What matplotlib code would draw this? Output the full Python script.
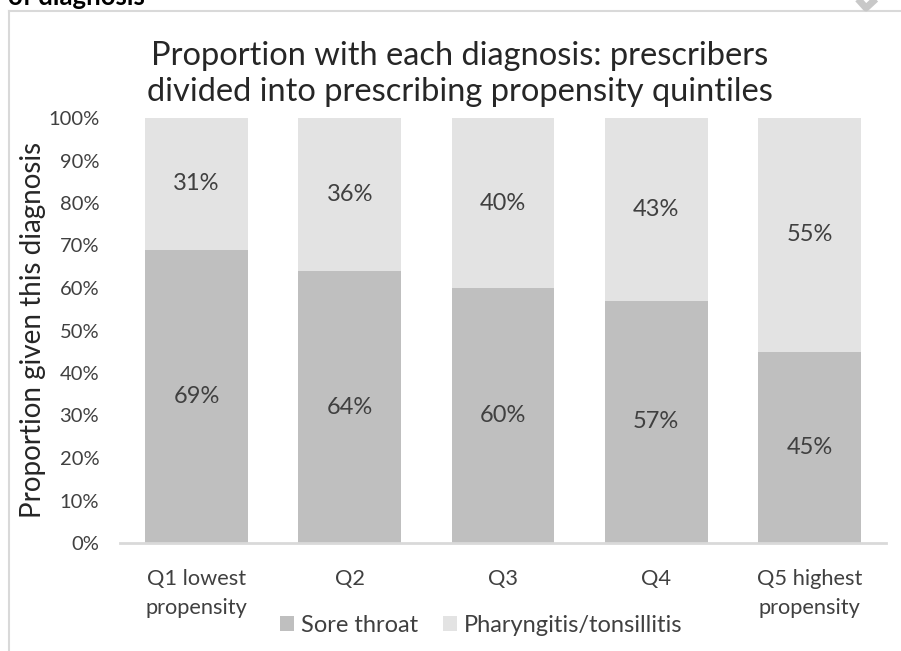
"""
Stacked 100% bar chart: diagnosis mix by prescribing propensity quintile.
"""
import matplotlib
matplotlib.use("Agg")
import matplotlib.pyplot as plt
from matplotlib.lines import Line2D
from matplotlib.patches import Patch

plt.rcParams["font.family"] = ["Lato", "DejaVu Sans"]

# ---------------------------------------------------------------------------
# Data
# ---------------------------------------------------------------------------
quintiles   = ["Q1 lowest\npropensity", "Q2", "Q3", "Q4", "Q5 highest\npropensity"]
sore_throat = [69, 64, 60, 57, 45]
pharyngitis = [31, 36, 40, 43, 55]
series_names = ["Sore throat", "Pharyngitis/tonsillitis"]
y_ticks = [0, 10, 20, 30, 40, 50, 60, 70, 80, 90, 100]

COL_SORE  = "#BFBFBF"
COL_PHAR  = "#E3E3E3"
COL_TEXT  = "#404040"
COL_GRID  = "#D9D9D9"

W, H = 901, 651
fig = plt.figure(figsize=(W / 100, H / 100), dpi=100)

# plot area in pixel units -> figure fraction
ax_l, ax_r, ax_t, ax_b = 120, 886, 118, 543
ax = fig.add_axes([ax_l / W, 1 - ax_b / H, (ax_r - ax_l) / W, (ax_b - ax_t) / H])

x = list(range(len(quintiles)))
ax.bar(x, sore_throat, width=0.67, color=COL_SORE, zorder=2)
ax.bar(x, pharyngitis, width=0.67, bottom=sore_throat, color=COL_PHAR, zorder=2)

for i in x:
    ax.text(i, sore_throat[i] / 2, f"{sore_throat[i]}%", ha="center", va="center",
            fontsize=17, color=COL_TEXT)
    ax.text(i, sore_throat[i] + pharyngitis[i] / 2, f"{pharyngitis[i]}%",
            ha="center", va="center", fontsize=17, color=COL_TEXT)

ax.set_xlim(-0.5, len(quintiles) - 0.5)
ax.set_ylim(0, 100)
ax.set_yticks(y_ticks)
ax.set_yticklabels([f"{t}%" for t in y_ticks])
ax.set_xticks(x)
ax.set_xticklabels(quintiles, linespacing=1.55)
ax.tick_params(axis="y", length=0, pad=15, labelsize=14.5, labelcolor=COL_TEXT)
ax.tick_params(axis="x", length=0, pad=19, labelsize=15.7, labelcolor=COL_TEXT)

for side in ["top", "right", "left"]:
    ax.spines[side].set_visible(False)
ax.spines["bottom"].set_color(COL_GRID)
ax.spines["bottom"].set_linewidth(2)
ax.spines["bottom"].set_zorder(3)

fig.text(33 / W, 1 - 330 / H, "Proportion given this diagnosis", rotation=90,
         ha="center", va="center", fontsize=20, color="#262626")

fig.text(460 / W, 1 - 74 / H,
         "Proportion with each diagnosis: prescribers\n"
         "divided into prescribing propensity quintiles",
         ha="center", va="center", fontsize=23.5, color="#262626", linespacing=1.27)

handles = [Patch(facecolor=COL_SORE), Patch(facecolor=COL_PHAR)]
fig.legend(handles, series_names, loc="center", bbox_to_anchor=(481 / W, 1 - 625 / H),
           ncol=2, frameon=False, fontsize=17, handlelength=0.6, handleheight=0.6,
           handletextpad=0.3, columnspacing=1.05, labelcolor=COL_TEXT)

# chart frame (cropped at right and bottom) and clipped page remnants
fig.add_artist(Line2D([9 / W, 9 / W], [0, 1 - 11 / H], color=COL_GRID, lw=1.5))
fig.add_artist(Line2D([9 / W, 1], [1 - 11 / H, 1 - 11 / H], color=COL_GRID, lw=1.5))
fig.text(8 / W, 1 - 5 / H, "of diagnosis", ha="left", va="baseline",
         fontsize=18.5, fontweight="bold", color="#000000")
fig.add_artist(Line2D([857 / W, 866 / W, 879 / W], [1 + 2 / H, 1 - 8 / H, 1 + 4 / H],
                      color="#C8C8C8", lw=5, solid_capstyle="butt"))

fig.savefig("out.png", dpi=100)
